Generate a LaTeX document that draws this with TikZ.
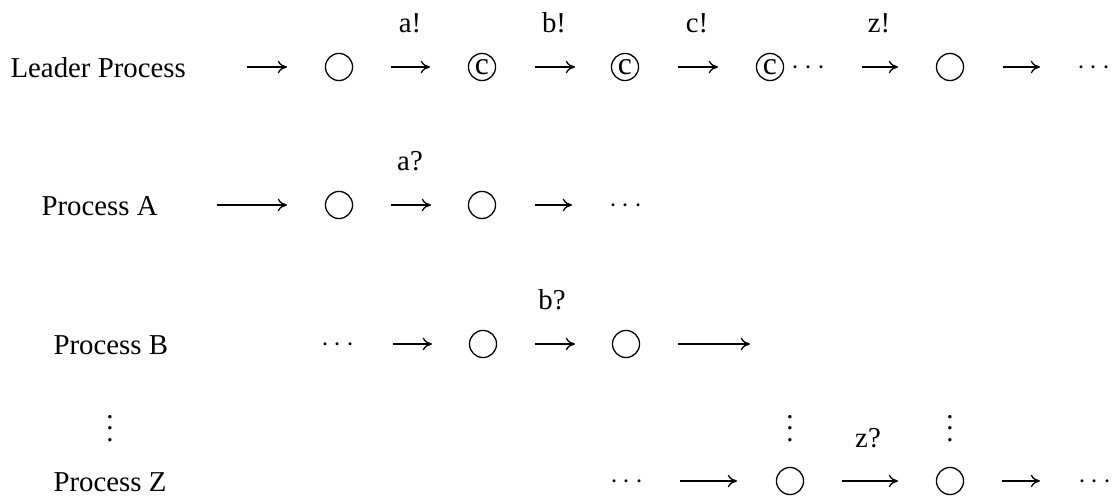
\documentclass[tikz,border=0pt]{standalone}
\usepackage{fontspec}
\setmainfont{Liberation Serif}
\usetikzlibrary{arrows.meta, positioning}

\begin{document}
\begin{tikzpicture}[
    x=0.347pt, y=-0.347pt,
    font=\fontsize{10}{12}\selectfont,
    proc/.style={anchor=base west, inner sep=0, yshift=-3.5pt},
    state/.style={circle, draw, line width=0.45pt, minimum size=9.4pt, inner sep=0, font=\fontsize{11}{12}\selectfont},
    msg/.style={inner sep=0},
    dotsn/.style={anchor=base, inner sep=0, yshift=-2.5pt},
    arrow/.style={-{To[length=3.2pt, width=4.4pt]}, line width=0.45pt},
    gap/.style 2 args={shorten <=#1*0.347pt, shorten >=#2*0.347pt}
]
    \useasboundingbox (0,0) rectangle (1117,497);

    % Leader
    \node[proc] (leader) at (10,67) {Leader Process};
    \node[state] (l1) at (339,67) {};
    \node[state] (l2) at (482,67) {c};
    \node[state] (l3) at (625,67) {c};
    \node[state] (l4) at (770,67) {c};
    \node[dotsn, anchor=base west] (ldots) at (791,67) {$\cdots$};
    \node[state] (l5) at (950,67) {};
    \node[dotsn] (l6) at (1094,67) {$\cdots$};

    \node[msg] (sa) at (410,23) {a!};
    \node[msg] (sb) at (554,23) {b!};
    \node[msg] (sc) at (697,23) {c!};
    \node[msg] (sz) at (879,23) {z!};

    \draw[arrow, gap={237}{52}] (leader.west |- l1.center) -- (l1.center);
    \draw[arrow, gap={52}{52}] (l1.center) -- (l2.center);
    \draw[arrow, gap={53}{50}] (l2.center) -- (l3.center);
    \draw[arrow, gap={53}{52}] (l3.center) -- (l4.center);
    \draw[arrow, gap={92}{52}] (l4.center) -- (l5.center);
    \draw[arrow, gap={53}{54}] (l5.center) -- (l6 |- l5.center);

    % Process A
    \node[proc] (procA) at (41,205) {Process A};
    \node[state] (a1) at (339,205) {};
    \node[state] (a2) at (482,205) {};
    \node[dotsn] (a3) at (626,205) {$\cdots$};
    \node[msg] (ra) at (410,161) {a?};

    \draw[arrow, gap={176}{52}] (procA.west |- a1.center) -- (a1.center);
    \draw[arrow, gap={52}{51}] (a1.center) -- (a2.center);
    \draw[arrow, gap={53}{54}] (a2.center) -- (a3 |- a2.center);

    % Process B
    \node[proc] (procB) at (53,344) {Process B};
    \node[dotsn] (b0) at (338,344) {$\cdots$};
    \node[state] (b1) at (483,344) {};
    \node[state] (b2) at (626,344) {};
    \coordinate (bend) at (750,344);
    \node[msg] (rb) at (552,300) {b?};

    \draw[arrow, gap={55}{51}] (b0 |- b1.center) -- (b1.center);
    \draw[arrow, gap={52}{51}] (b1.center) -- (b2.center);
    \draw[arrow, gap={52}{0}] (b2.center) -- (bend);

    % weitere Prozesse
    \node[msg] (vd0) at (110,420) {$\vdots$};
    \node[msg] (vd1) at (790,420) {$\vdots$};
    \node[msg] (vd2) at (950,420) {$\vdots$};

    % Process Z
    \node[proc] (procZ) at (53,481) {Process Z};
    \node[dotsn] (z0) at (627,481) {$\cdots$};
    \node[state] (z1) at (790,481) {};
    \node[state] (z2) at (950,481) {};
    \node[dotsn] (z3) at (1095,481) {$\cdots$};
    \node[msg] (rz) at (868,438) {z?};

    \draw[arrow, gap={53}{53}] (z0 |- z1.center) -- (z1.center);
    \draw[arrow, gap={52}{52}] (z1.center) -- (z2.center);
    \draw[arrow, gap={52}{55}] (z2.center) -- (z3 |- z2.center);
\end{tikzpicture}
\end{document}
